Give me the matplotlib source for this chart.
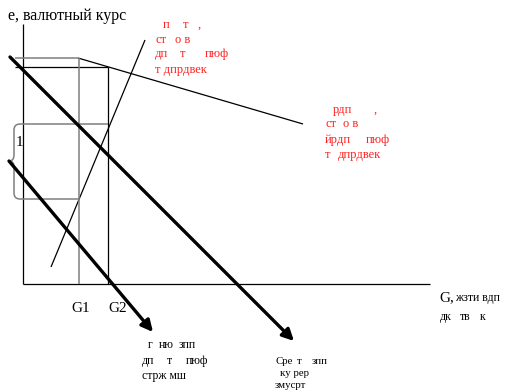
import matplotlib
matplotlib.use("Agg")
import matplotlib.pyplot as plt
from matplotlib.path import Path
from matplotlib.patches import PathPatch

plt.rcParams['font.family'] = ['Liberation Serif', 'DejaVu Serif']

# ---- diagram data (pixel-like coordinates, y downward) ----
axis_lines = [((23, 24), (23, 284)), ((23, 284), (430, 284))]
black_thin_lines = [((78, 58), (303, 124)), ((15, 67), (108, 67)),
                    ((108, 67), (108, 284)), ((51, 267), (145, 40))]
gray_lines = [((15, 58), (78, 58)), ((79, 58), (79, 284)),
              ((20, 124), (108, 124)), ((20, 199), (79, 199))]
thick_arrows = [((10, 57), (294, 341)), ((9, 161), (153, 332))]

title_text = "e, валютный курс"
red_texts = [
    (163, 25, "п"), (183, 25, "т"), (198, 25, ","),
    (155, 40, "ст"), (175, 40, "о в"),
    (155, 54, "дп"), (180, 54, "т"), (205, 54, "пюф"),
    (155, 70, "т дпрдвек"),
    (333, 110, "рдп"), (374, 110, ","),
    (325, 124, "ст"), (343, 124, "о в"),
    (325, 140, "йрдп"), (366, 140, "пюф"),
    (325, 155, "т"), (338, 155, "дпрдвек"),
]
black_small_texts = [
    (148, 345, "г"), (159, 345, "ню"), (179, 345, "зпп"),
    (142, 361, "дп"), (167, 361, "т"), (186, 361, "пюф"),
    (142, 376, "стрж мш"),
    (455, 298, "жзти вдп"),
    (440, 317, "дк"), (460, 317, "тв"), (480, 317, "к"),
]
tight_texts = [
    (275, 361, "Сре"), (297, 361, "т"), (312, 361, "зпп"),
    (280, 373, "ку рер"),
    (275, 385, "змусрт"),
]
big_texts = [(71, 308, "G1"), (108, 308, "G2"), (439, 298, "G,"), (16, 142, "1")]

fig = plt.figure(figsize=(5.05, 3.91), dpi=100)
ax = fig.add_axes([0, 0, 1, 1])
ax.set_xlim(0, 505)
ax.set_ylim(391, 0)
ax.axis('off')

for (x0, y0), (x1, y1) in axis_lines:
    ax.plot([x0, x1], [y0, y1], color='black', lw=0.9, solid_capstyle='butt')
for (x0, y0), (x1, y1) in black_thin_lines:
    ax.plot([x0, x1], [y0, y1], color='black', lw=0.9, solid_capstyle='butt')
for (x0, y0), (x1, y1) in gray_lines:
    ax.plot([x0, x1], [y0, y1], color='#7f7f7f', lw=1.1, solid_capstyle='butt')
for (x0, y0), (x1, y1) in thick_arrows:
    ax.annotate("", xy=(x1, y1), xytext=(x0, y0),
                arrowprops=dict(arrowstyle='-|>', lw=2.4, color='black',
                                mutation_scale=17, shrinkA=0, shrinkB=0))

# brace
verts = [(20, 124),
         (14, 124), (14, 130),
         (14, 155),
         (14, 161), (9, 161),
         (14, 161), (14, 167),
         (14, 193),
         (14, 199), (20, 199)]
codes = [Path.MOVETO,
         Path.CURVE3, Path.CURVE3,
         Path.LINETO,
         Path.CURVE3, Path.CURVE3,
         Path.CURVE3, Path.CURVE3,
         Path.LINETO,
         Path.CURVE3, Path.CURVE3]
ax.add_patch(PathPatch(Path(verts, codes), fill=False, edgecolor='#7f7f7f', lw=1.1))

ax.text(8, 16, title_text, fontsize=11.5, ha='left', va='center', color='black')
for x, y, t in red_texts:
    ax.text(x, y, t, fontsize=9, ha='left', va='center', color='#ff2020')
for x, y, t in black_small_texts:
    ax.text(x, y, t, fontsize=8.5, ha='left', va='center', color='black')
for x, y, t in tight_texts:
    ax.text(x, y, t, fontsize=7.8, ha='left', va='center', color='black')
for x, y, t in big_texts:
    ax.text(x, y, t, fontsize=11, ha='left', va='center', color='black')

fig.savefig("out.png", dpi=100)
